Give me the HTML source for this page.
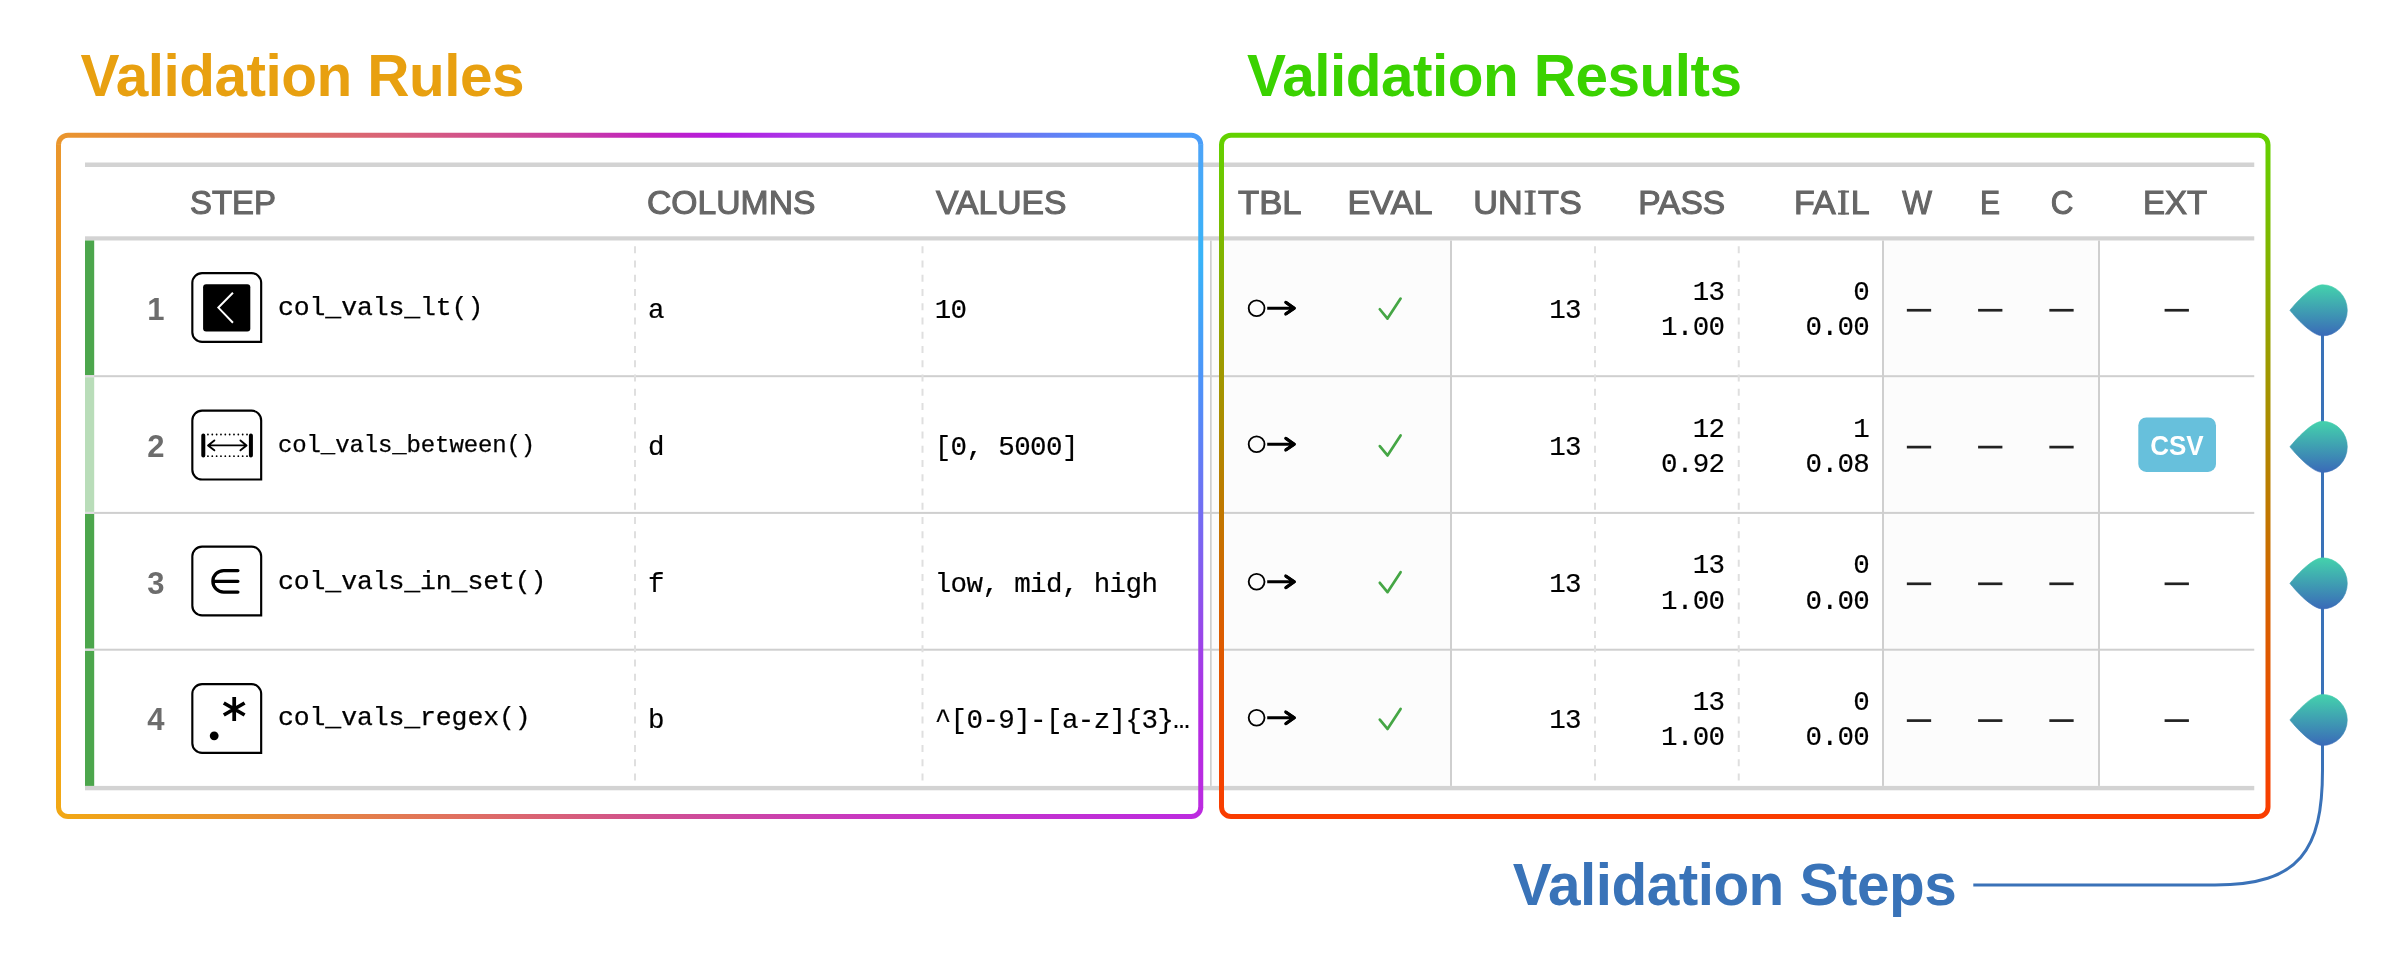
<!DOCTYPE html>
<html><head><meta charset="utf-8"><title>Validation report</title>
<style>
html,body{margin:0;padding:0;background:#fff;}
body{width:2400px;height:960px;position:relative;overflow:hidden;font-family:"Liberation Sans",sans-serif;}
#stage{position:absolute;left:0;top:0;width:2400px;height:960px;will-change:transform;}
.t{position:absolute;line-height:1;white-space:pre;}
.s{font-family:"Liberation Sans",sans-serif;}
.m{font-family:"Liberation Mono",monospace;}
.I{display:inline-block;position:relative;padding:0 2.8px 0 3px;}
.I::before,.I::after{content:"";position:absolute;left:2.3px;right:2.05px;height:2.4px;background:#666;}
.I::before{top:5.7px;}
.I::after{top:27.3px;}
</style></head><body>
<div id="stage">
<svg width="2400" height="960" viewBox="0 0 2400 960" style="position:absolute;left:0;top:0">
<rect x="1211.50" y="240.50" width="238.50" height="545.40" fill="#FCFCFC"/>
<rect x="1884.00" y="240.50" width="214.00" height="545.40" fill="#FCFCFC"/>
<rect x="85.00" y="162.50" width="2169.25" height="4.50" fill="#D3D3D3"/>
<rect x="85.00" y="236.30" width="2169.25" height="4.20" fill="#D3D3D3"/>
<rect x="85.00" y="375.20" width="2169.25" height="2.00" fill="#CFCFCF"/>
<rect x="85.00" y="511.90" width="2169.25" height="2.00" fill="#CFCFCF"/>
<rect x="85.00" y="648.70" width="2169.25" height="2.00" fill="#CFCFCF"/>
<rect x="85.00" y="785.90" width="2169.25" height="4.40" fill="#D3D3D3"/>
<rect x="1210.00" y="240.50" width="1.70" height="545.40" fill="#CFCFCF"/>
<rect x="1450.00" y="240.50" width="2.00" height="545.40" fill="#CFCFCF"/>
<rect x="1882.00" y="240.50" width="2.00" height="545.40" fill="#CFCFCF"/>
<rect x="2098.00" y="240.50" width="2.00" height="545.40" fill="#CFCFCF"/>
<path d="M635.00 246.2V782.90" stroke="#DFDFDF" stroke-width="2" stroke-dasharray="7 7.25" fill="none"/>
<path d="M922.50 246.2V782.90" stroke="#DFDFDF" stroke-width="2" stroke-dasharray="7 7.25" fill="none"/>
<path d="M1595.00 246.2V782.90" stroke="#DFDFDF" stroke-width="2" stroke-dasharray="7 7.25" fill="none"/>
<path d="M1738.75 246.2V782.90" stroke="#DFDFDF" stroke-width="2" stroke-dasharray="7 7.25" fill="none"/>
<rect x="85.00" y="240.50" width="9.20" height="134.70" fill="#4CA64C"/>
<rect x="85.00" y="377.20" width="9.20" height="134.70" fill="#B9DDB9"/>
<rect x="85.00" y="513.90" width="9.20" height="134.80" fill="#4CA64C"/>
<rect x="85.00" y="650.70" width="9.20" height="135.20" fill="#4CA64C"/>
<rect x="85.00" y="375.20" width="9.20" height="2.00" fill="#E2DCE2"/>
<rect x="85.00" y="511.90" width="9.20" height="2.00" fill="#E2DCE2"/>
<rect x="85.00" y="648.70" width="9.20" height="2.00" fill="#E2DCE2"/>
<rect x="1906.85" y="308.90" width="24.30" height="2.70" fill="#222"/>
<rect x="1978.10" y="308.90" width="24.30" height="2.70" fill="#222"/>
<rect x="2049.35" y="308.90" width="24.30" height="2.70" fill="#222"/>
<rect x="2164.60" y="308.90" width="24.30" height="2.70" fill="#222"/>
<rect x="1906.85" y="445.75" width="24.30" height="2.70" fill="#222"/>
<rect x="1978.10" y="445.75" width="24.30" height="2.70" fill="#222"/>
<rect x="2049.35" y="445.75" width="24.30" height="2.70" fill="#222"/>
<rect x="1906.85" y="582.45" width="24.30" height="2.70" fill="#222"/>
<rect x="1978.10" y="582.45" width="24.30" height="2.70" fill="#222"/>
<rect x="2049.35" y="582.45" width="24.30" height="2.70" fill="#222"/>
<rect x="2164.60" y="582.45" width="24.30" height="2.70" fill="#222"/>
<rect x="1906.85" y="719.25" width="24.30" height="2.70" fill="#222"/>
<rect x="1978.10" y="719.25" width="24.30" height="2.70" fill="#222"/>
<rect x="2049.35" y="719.25" width="24.30" height="2.70" fill="#222"/>
<rect x="2164.60" y="719.25" width="24.30" height="2.70" fill="#222"/>
<rect x="2138.30" y="417.50" width="77.70" height="54.40" rx="8" fill="#67C0DC"/>
</svg>
<div class="t s" style="top:47.08px;font-size:58.5px;color:#E8A010;font-weight:700;letter-spacing:-0.53px;left:80.60px;">Validation Rules</div>
<div class="t s" style="top:47.08px;font-size:58.5px;color:#3AD200;font-weight:700;letter-spacing:-0.53px;left:1247.10px;">Validation Results</div>
<div class="t s" style="top:856.08px;font-size:58.5px;color:#3973B8;font-weight:700;letter-spacing:-0.53px;left:1512.80px;">Validation Steps</div>
<div class="t s" style="top:184.22px;font-size:34px;color:#666666;-webkit-text-stroke:1.1px #666666;left:190.30px;transform-origin:0 0;transform:translateY(0.6px) scaleX(0.968);">STEP</div>
<div class="t s" style="top:184.22px;font-size:34px;color:#666666;-webkit-text-stroke:1.1px #666666;left:647.00px;transform-origin:0 0;transform:translateY(0.6px) scaleX(0.991);">COLUMNS</div>
<div class="t s" style="top:184.22px;font-size:34px;color:#666666;-webkit-text-stroke:1.1px #666666;left:935.70px;transform-origin:0 0;transform:translateY(0.6px) scaleX(0.991);">VALUES</div>
<div class="t s" style="top:184.22px;font-size:34px;color:#666666;-webkit-text-stroke:1.1px #666666;left:1238.10px;transform-origin:0 0;transform:translateY(0.6px) scaleX(1.02);">TBL</div>
<div class="t s" style="top:184.22px;font-size:34px;color:#666666;-webkit-text-stroke:1.1px #666666;left:1389.60px;transform:translate(-50%,0.6px) scaleX(1.007);">EVAL</div>
<div class="t s" style="top:184.22px;font-size:34px;color:#666666;-webkit-text-stroke:1.1px #666666;right:818.50px;transform-origin:100% 0;transform:translateY(0.6px) scaleX(1.006);">UN<span class="I">I</span>TS</div>
<div class="t s" style="top:184.22px;font-size:34px;color:#666666;-webkit-text-stroke:1.1px #666666;right:674.80px;transform-origin:100% 0;transform:translateY(0.6px) scaleX(0.987);">PASS</div>
<div class="t s" style="top:184.22px;font-size:34px;color:#666666;-webkit-text-stroke:1.1px #666666;right:530.00px;transform-origin:100% 0;transform:translateY(0.6px) scaleX(0.999);">FA<span class="I">I</span>L</div>
<div class="t s" style="top:184.22px;font-size:34px;color:#666666;-webkit-text-stroke:1.1px #666666;left:1917.40px;transform:translate(-50%,0.6px) scaleX(0.926);">W</div>
<div class="t s" style="top:184.22px;font-size:34px;color:#666666;-webkit-text-stroke:1.1px #666666;left:1989.60px;transform:translate(-50%,0.6px) scaleX(0.883);">E</div>
<div class="t s" style="top:184.22px;font-size:34px;color:#666666;-webkit-text-stroke:1.1px #666666;left:2062.00px;transform:translate(-50%,0.6px) scaleX(0.92);">C</div>
<div class="t s" style="top:184.22px;font-size:34px;color:#666666;-webkit-text-stroke:1.1px #666666;left:2175.20px;transform:translate(-50%,0.6px) scaleX(0.971);">EXT</div>
<div class="t s" style="top:293.76px;font-size:31px;color:#6C6C6C;font-weight:700;left:155.75px;transform:translate(-50%,0px) scaleX(1);">1</div>
<div class="t m" style="top:294.68px;font-size:26.5px;color:#000;letter-spacing:-0.12px;-webkit-text-stroke:0.25px #000;left:278.00px;">col_vals_lt()</div>
<div class="t m" style="top:296.92px;font-size:27.5px;color:#000;letter-spacing:-0.6px;-webkit-text-stroke:0.2px #000;left:648.00px;">a</div>
<div class="t m" style="top:296.92px;font-size:27.5px;color:#000;letter-spacing:-0.6px;-webkit-text-stroke:0.2px #000;left:934.70px;">10</div>
<div class="t m" style="top:296.92px;font-size:27.5px;color:#000;letter-spacing:-0.6px;-webkit-text-stroke:0.2px #000;right:819.00px;">13</div>
<div class="t m" style="top:278.92px;font-size:27.5px;color:#000;letter-spacing:-0.6px;-webkit-text-stroke:0.2px #000;right:675.50px;">13</div>
<div class="t m" style="top:313.92px;font-size:27.5px;color:#000;letter-spacing:-0.6px;-webkit-text-stroke:0.2px #000;right:675.50px;">1.00</div>
<div class="t m" style="top:278.92px;font-size:27.5px;color:#000;letter-spacing:-0.6px;-webkit-text-stroke:0.2px #000;right:530.80px;">0</div>
<div class="t m" style="top:313.92px;font-size:27.5px;color:#000;letter-spacing:-0.6px;-webkit-text-stroke:0.2px #000;right:530.80px;">0.00</div>
<div class="t s" style="top:430.76px;font-size:31px;color:#6C6C6C;font-weight:700;left:155.75px;transform:translate(-50%,0px) scaleX(1);">2</div>
<div class="t m" style="top:433.60px;font-size:24px;color:#000;letter-spacing:-0.12px;-webkit-text-stroke:0.25px #000;left:278.00px;">col_vals_between()</div>
<div class="t m" style="top:433.92px;font-size:27.5px;color:#000;letter-spacing:-0.6px;-webkit-text-stroke:0.2px #000;left:648.00px;">d</div>
<div class="t m" style="top:433.92px;font-size:27.5px;color:#000;letter-spacing:-0.6px;-webkit-text-stroke:0.2px #000;left:934.70px;">[0, 5000]</div>
<div class="t m" style="top:433.92px;font-size:27.5px;color:#000;letter-spacing:-0.6px;-webkit-text-stroke:0.2px #000;right:819.00px;">13</div>
<div class="t m" style="top:415.92px;font-size:27.5px;color:#000;letter-spacing:-0.6px;-webkit-text-stroke:0.2px #000;right:675.50px;">12</div>
<div class="t m" style="top:450.92px;font-size:27.5px;color:#000;letter-spacing:-0.6px;-webkit-text-stroke:0.2px #000;right:675.50px;">0.92</div>
<div class="t m" style="top:415.92px;font-size:27.5px;color:#000;letter-spacing:-0.6px;-webkit-text-stroke:0.2px #000;right:530.80px;">1</div>
<div class="t m" style="top:450.92px;font-size:27.5px;color:#000;letter-spacing:-0.6px;-webkit-text-stroke:0.2px #000;right:530.80px;">0.08</div>
<div class="t s" style="top:567.76px;font-size:31px;color:#6C6C6C;font-weight:700;left:155.75px;transform:translate(-50%,0px) scaleX(1);">3</div>
<div class="t m" style="top:568.68px;font-size:26.5px;color:#000;letter-spacing:-0.12px;-webkit-text-stroke:0.25px #000;left:278.00px;">col_vals_in_set()</div>
<div class="t m" style="top:570.92px;font-size:27.5px;color:#000;letter-spacing:-0.6px;-webkit-text-stroke:0.2px #000;left:648.00px;">f</div>
<div class="t m" style="top:570.92px;font-size:27.5px;color:#000;letter-spacing:-0.6px;-webkit-text-stroke:0.2px #000;left:934.70px;">low, mid, high</div>
<div class="t m" style="top:570.92px;font-size:27.5px;color:#000;letter-spacing:-0.6px;-webkit-text-stroke:0.2px #000;right:819.00px;">13</div>
<div class="t m" style="top:551.92px;font-size:27.5px;color:#000;letter-spacing:-0.6px;-webkit-text-stroke:0.2px #000;right:675.50px;">13</div>
<div class="t m" style="top:587.92px;font-size:27.5px;color:#000;letter-spacing:-0.6px;-webkit-text-stroke:0.2px #000;right:675.50px;">1.00</div>
<div class="t m" style="top:551.92px;font-size:27.5px;color:#000;letter-spacing:-0.6px;-webkit-text-stroke:0.2px #000;right:530.80px;">0</div>
<div class="t m" style="top:587.92px;font-size:27.5px;color:#000;letter-spacing:-0.6px;-webkit-text-stroke:0.2px #000;right:530.80px;">0.00</div>
<div class="t s" style="top:703.76px;font-size:31px;color:#6C6C6C;font-weight:700;left:155.75px;transform:translate(-50%,0px) scaleX(1);">4</div>
<div class="t m" style="top:704.68px;font-size:26.5px;color:#000;letter-spacing:-0.12px;-webkit-text-stroke:0.25px #000;left:278.00px;">col_vals_regex()</div>
<div class="t m" style="top:706.92px;font-size:27.5px;color:#000;letter-spacing:-0.6px;-webkit-text-stroke:0.2px #000;left:648.00px;">b</div>
<div class="t m" style="top:706.92px;font-size:27.5px;color:#000;letter-spacing:-0.6px;-webkit-text-stroke:0.2px #000;left:934.70px;">^[0-9]-[a-z]{3}…</div>
<div class="t m" style="top:706.92px;font-size:27.5px;color:#000;letter-spacing:-0.6px;-webkit-text-stroke:0.2px #000;right:819.00px;">13</div>
<div class="t m" style="top:688.92px;font-size:27.5px;color:#000;letter-spacing:-0.6px;-webkit-text-stroke:0.2px #000;right:675.50px;">13</div>
<div class="t m" style="top:723.92px;font-size:27.5px;color:#000;letter-spacing:-0.6px;-webkit-text-stroke:0.2px #000;right:675.50px;">1.00</div>
<div class="t m" style="top:688.92px;font-size:27.5px;color:#000;letter-spacing:-0.6px;-webkit-text-stroke:0.2px #000;right:530.80px;">0</div>
<div class="t m" style="top:723.92px;font-size:27.5px;color:#000;letter-spacing:-0.6px;-webkit-text-stroke:0.2px #000;right:530.80px;">0.00</div>
<div class="t s" style="top:433.34px;font-size:27px;color:#fff;font-weight:700;left:2177.30px;transform:translate(-50%,0px) scaleX(0.962);">CSV</div>
<svg width="2400" height="960" viewBox="0 0 2400 960" style="position:absolute;left:0;top:0;overflow:visible">
<defs>
<linearGradient id="gt" gradientUnits="userSpaceOnUse" x1="56" y1="0" x2="1203" y2="0">
<stop offset="0" stop-color="#EA962C"/><stop offset="0.30" stop-color="#D8607A"/><stop offset="0.45" stop-color="#C83CA4"/><stop offset="0.52" stop-color="#C022C0"/><stop offset="0.58" stop-color="#B41CE0"/><stop offset="0.65" stop-color="#A838E8"/><stop offset="0.74" stop-color="#9050EA"/><stop offset="0.83" stop-color="#7070F2"/><stop offset="0.91" stop-color="#5290F8"/><stop offset="1" stop-color="#4B9EF8"/>
</linearGradient>
<linearGradient id="gr" gradientUnits="userSpaceOnUse" x1="0" y1="133" x2="0" y2="818">
<stop offset="0" stop-color="#4FA2F8"/><stop offset="0.18" stop-color="#38B4F8"/><stop offset="0.38" stop-color="#5090F8"/><stop offset="0.62" stop-color="#8060F0"/><stop offset="0.85" stop-color="#B42CE2"/><stop offset="1" stop-color="#BC2AE0"/>
</linearGradient>
<linearGradient id="gb" gradientUnits="userSpaceOnUse" x1="56" y1="0" x2="1203" y2="0">
<stop offset="0" stop-color="#F2A814"/><stop offset="0.17" stop-color="#E89030"/><stop offset="0.35" stop-color="#E07060"/><stop offset="0.52" stop-color="#D05090"/><stop offset="0.70" stop-color="#C838C0"/><stop offset="1" stop-color="#BC2AE0"/>
</linearGradient>
<linearGradient id="gl" gradientUnits="userSpaceOnUse" x1="0" y1="133" x2="0" y2="818">
<stop offset="0" stop-color="#EA962C"/><stop offset="1" stop-color="#F2A814"/>
</linearGradient>
<linearGradient id="gg" gradientUnits="userSpaceOnUse" x1="0" y1="133" x2="0" y2="818">
<stop offset="0" stop-color="#62D200"/><stop offset="0.35" stop-color="#A09800"/><stop offset="0.7" stop-color="#D86000"/><stop offset="1" stop-color="#FA3C00"/>
</linearGradient>
<linearGradient id="gp" x1="0" y1="0" x2="0" y2="1">
<stop offset="0" stop-color="#44D2AC"/><stop offset="1" stop-color="#3A6AB8"/>
</linearGradient>
</defs>
<g fill="none" stroke-width="5">
<path d="M58.5 144.75A9.5 9.5 0 0 1 68.0 135.25H1191.25A9.5 9.5 0 0 1 1200.75 144.75" stroke="url(#gt)"/>
<path d="M1200.75 144.25V807.6" stroke="url(#gr)"/>
<path d="M1200.75 807.1A9.5 9.5 0 0 1 1191.25 816.6H68.0A9.5 9.5 0 0 1 58.5 807.1" stroke="url(#gb)"/>
<path d="M58.5 807.6V144.25" stroke="url(#gl)"/>
<rect x="1221.5" y="135.25" width="1046.5" height="681.35" rx="9.5" stroke="url(#gg)"/>
</g>
<path d="M202.03 273.08H251.47A9.7 9.7 0 0 1 261.17 282.78V341.92H202.03A9.7 9.7 0 0 1 192.33 332.22V282.78A9.7 9.7 0 0 1 202.03 273.08Z" fill="#fff" stroke="#000" stroke-width="2.15" stroke-linejoin="miter"/>
<rect x="203.10" y="284.20" width="47.2" height="47.2" rx="3" fill="#000"/>
<path d="M232.95 292.70L218.35 307.60L232.95 322.80" fill="none" stroke="#fff" stroke-width="2"/>
<path d="M202.03 410.68H251.47A9.7 9.7 0 0 1 261.17 420.38V479.52H202.03A9.7 9.7 0 0 1 192.33 469.82V420.38A9.7 9.7 0 0 1 202.03 410.68Z" fill="#fff" stroke="#000" stroke-width="2.15" stroke-linejoin="miter"/>
<g stroke="#000" fill="none" stroke-linecap="round" stroke-linejoin="round">
<path d="M203.30 435.45V455.40M250.90 435.45V455.40" stroke-width="4"/>
<path d="M208.25 445.40H246.25M214.35 440.40L208.05 445.40L214.35 450.30M240.45 440.40L246.55 445.40L240.45 450.30" stroke-width="1.9"/>
<path d="M207.95 434.50H247.25M207.95 456.20H247.25" stroke-width="1.8" stroke-dasharray="0 4.34"/>
</g>
<path d="M202.03 546.58H251.47A9.7 9.7 0 0 1 261.17 556.28V615.42H202.03A9.7 9.7 0 0 1 192.33 605.72V556.28A9.7 9.7 0 0 1 202.03 546.58Z" fill="#fff" stroke="#000" stroke-width="2.15" stroke-linejoin="miter"/>
<path d="M237.90 570.55H223.65A10.75 10.75 0 0 0 223.65 592.05H237.90M212.90 581.30H237.90" fill="none" stroke="#000" stroke-width="3.3" stroke-linecap="round"/>
<path d="M202.03 684.08H251.47A9.7 9.7 0 0 1 261.17 693.78V752.92H202.03A9.7 9.7 0 0 1 192.33 743.22V693.78A9.7 9.7 0 0 1 202.03 684.08Z" fill="#fff" stroke="#000" stroke-width="2.15" stroke-linejoin="miter"/>
<path d="M234.20 697.00L234.20 721.00M223.81 703.00L244.59 715.00M223.81 715.00L244.59 703.00" fill="none" stroke="#000" stroke-width="3.75"/>
<circle cx="214.20" cy="735.80" r="4.4" fill="#000"/>
<circle cx="1256.6" cy="308.20" r="7.9" fill="none" stroke="#000" stroke-width="1.85"/>
<path d="M1267.2 308.20H1293M1285.7 302.30L1294.2 308.20L1285.7 314.10" fill="none" stroke="#000" stroke-width="3.1" stroke-linecap="butt" stroke-linejoin="round"/>
<path d="M1285.7 302.30L1294.2 308.20L1285.7 314.10" fill="none" stroke="#000" stroke-width="3.1" stroke-linecap="round" stroke-linejoin="round"/>
<path d="M1379.8 309.25L1387.5 318.60L1400.6 298.60" fill="none" stroke="#45A645" stroke-width="2.7" stroke-linecap="round" stroke-linejoin="round"/>
<circle cx="1256.6" cy="444.20" r="7.9" fill="none" stroke="#000" stroke-width="1.85"/>
<path d="M1267.2 444.20H1293M1285.7 438.30L1294.2 444.20L1285.7 450.10" fill="none" stroke="#000" stroke-width="3.1" stroke-linecap="butt" stroke-linejoin="round"/>
<path d="M1285.7 438.30L1294.2 444.20L1285.7 450.10" fill="none" stroke="#000" stroke-width="3.1" stroke-linecap="round" stroke-linejoin="round"/>
<path d="M1379.8 446.10L1387.5 455.45L1400.6 435.45" fill="none" stroke="#45A645" stroke-width="2.7" stroke-linecap="round" stroke-linejoin="round"/>
<circle cx="1256.6" cy="581.80" r="7.9" fill="none" stroke="#000" stroke-width="1.85"/>
<path d="M1267.2 581.80H1293M1285.7 575.90L1294.2 581.80L1285.7 587.70" fill="none" stroke="#000" stroke-width="3.1" stroke-linecap="butt" stroke-linejoin="round"/>
<path d="M1285.7 575.90L1294.2 581.80L1285.7 587.70" fill="none" stroke="#000" stroke-width="3.1" stroke-linecap="round" stroke-linejoin="round"/>
<path d="M1379.8 582.80L1387.5 592.15L1400.6 572.15" fill="none" stroke="#45A645" stroke-width="2.7" stroke-linecap="round" stroke-linejoin="round"/>
<circle cx="1256.6" cy="717.80" r="7.9" fill="none" stroke="#000" stroke-width="1.85"/>
<path d="M1267.2 717.80H1293M1285.7 711.90L1294.2 717.80L1285.7 723.70" fill="none" stroke="#000" stroke-width="3.1" stroke-linecap="butt" stroke-linejoin="round"/>
<path d="M1285.7 711.90L1294.2 717.80L1285.7 723.70" fill="none" stroke="#000" stroke-width="3.1" stroke-linecap="round" stroke-linejoin="round"/>
<path d="M1379.8 719.60L1387.5 728.95L1400.6 708.95" fill="none" stroke="#45A645" stroke-width="2.7" stroke-linecap="round" stroke-linejoin="round"/>
<path d="M2322.5 300V770C2322.5 850 2300 885 2215 885H1973.3" fill="none" stroke="#3A72B8" stroke-width="3"/>
<path d="M2289.9 310.30C2295.5 303.30 2312 284.75 2322.5 284.75A24.8 25.55 0 0 1 2322.5 335.85C2312 335.85 2295.5 317.30 2289.9 310.30Z" fill="url(#gp)" stroke="url(#gp)" stroke-width="0.6" stroke-linejoin="round"/>
<path d="M2289.9 446.85C2295.5 439.85 2312 421.30 2322.5 421.30A24.8 25.55 0 0 1 2322.5 472.40C2312 472.40 2295.5 453.85 2289.9 446.85Z" fill="url(#gp)" stroke="url(#gp)" stroke-width="0.6" stroke-linejoin="round"/>
<path d="M2289.9 583.40C2295.5 576.40 2312 557.85 2322.5 557.85A24.8 25.55 0 0 1 2322.5 608.95C2312 608.95 2295.5 590.40 2289.9 583.40Z" fill="url(#gp)" stroke="url(#gp)" stroke-width="0.6" stroke-linejoin="round"/>
<path d="M2289.9 719.95C2295.5 712.95 2312 694.40 2322.5 694.40A24.8 25.55 0 0 1 2322.5 745.50C2312 745.50 2295.5 726.95 2289.9 719.95Z" fill="url(#gp)" stroke="url(#gp)" stroke-width="0.6" stroke-linejoin="round"/>
</svg>
</div>
</body></html>
